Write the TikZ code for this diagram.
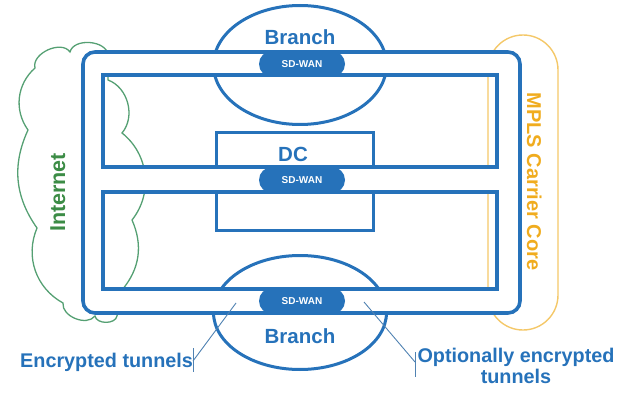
\documentclass[tikz,border=0pt]{standalone}
\usepackage{fontspec}
\setmainfont{Liberation Sans}
\usetikzlibrary{shapes.geometric,shapes.misc}
\definecolor{wanblue}{RGB}{38,114,186}
\definecolor{noteblue}{RGB}{80,130,178}
\definecolor{cloudgreen}{RGB}{85,160,115}
\definecolor{netgreen}{RGB}{60,140,70}
\definecolor{mplsorange}{RGB}{240,172,30}
\definecolor{mplsline}{RGB}{244,200,105}
\tikzset{
%Define styles for sites and tunnels
site/.style={draw=wanblue, line width=3pt, inner sep=0pt},
tunnel/.style={draw=wanblue, line width=3.6pt, fill=white, even odd rule},
sitelabel/.style={text=wanblue, font=\bfseries\fontsize{20.5}{24}\selectfont, inner sep=0pt},
sdwan/.style={rounded rectangle, fill=wanblue, text=white, font=\bfseries\fontsize{10}{11}\selectfont,
  minimum width=86pt, minimum height=26pt, inner sep=0pt},
%Define styles for annotations
note/.style={draw=noteblue, line width=0.9pt},
notelabel/.style={text=wanblue, font=\bfseries\fontsize{19.8}{21}\selectfont, inner sep=0pt, align=center},
cloudline/.style={draw=cloudgreen, line width=1.3pt},
}

\begin{document}
\begin{tikzpicture}[x=1pt,y=-1pt]

\useasboundingbox (0,0) rectangle (637,409);

% internet cloud
\draw[cloudline] (35,68) to[bend left=80] (70,52) to[bend left=80] (108,55) -- (108,80)
  to[bend left=55] (122,133) to[bend left=45] (132,220) to[bend left=32] (122,290) -- (117,316)
  to[bend left=80] (95,316) to[bend left=75] (63,303) to[bend left=42] (37,228)
  to[bend left=30] (28,130) to[bend left=42] cycle;

% mpls core
\node[draw=mplsline, line width=1.4pt, rectangle, rounded corners=35pt,
  minimum width=70pt, minimum height=295pt] (mpls) at (523,182.5) {};

% sites
\node[site, ellipse, minimum width=173pt, minimum height=119pt] (branchtop) at (300,65) {};
\node[site, rectangle, minimum width=157pt, minimum height=97pt] (dcbox) at (294.5,181.5) {};
\node[site, ellipse, minimum width=173pt, minimum height=114pt] (branchbot) at (300,312.5) {};

% tunnels
\draw[tunnel] [rounded corners=12pt] (83,52) rectangle (520,313)
  [sharp corners] (103,75) rectangle (497,167) (103,192) rectangle (497,289);

% sd-wan edges
\node[sdwan] (sdtop) at (302,64) {SD-WAN};
\node[sdwan] (sddc) at (302,180) {SD-WAN};
\node[sdwan] (sdbot) at (302,301) {SD-WAN};

% labels
\node[sitelabel, anchor=base] (brtoplabel) at (300,45) {Branch};
\node[sitelabel, anchor=base] (dclabel) at (293,161) {DC};
\node[sitelabel, anchor=base] (brbotlabel) at (300,343) {Branch};
\node[text=netgreen, font=\bfseries\fontsize{21.5}{24}\selectfont, inner sep=0pt, rotate=90, anchor=base] (netlabel) at (65,192.5) {Internet};
\node[text=mplsorange, font=\bfseries\fontsize{20}{24}\selectfont, inner sep=0pt, rotate=-90, anchor=base] (mplslabel) at (527,181.5) {MPLS Carrier Core};

% annotations
\node[notelabel, anchor=base west] (enclabel) at (20,367) {Encrypted tunnels};
\coordinate (enctop) at (193,348);
\coordinate (encbot) at (193,372);
\coordinate (enctick) at (193,361);
\coordinate (enctip) at (236,303);
\draw[note] (enctop) -- (encbot);
\draw[note] (enctick) -- (enctip);

\node[notelabel, anchor=north] (optlabel) at (516,348) {Optionally encrypted\\tunnels};
\coordinate (opttop) at (415,352);
\coordinate (optbot) at (415,377);
\coordinate (opttick) at (415,362);
\coordinate (opttip) at (364,302);
\draw[note] (opttop) -- (optbot);
\draw[note] (opttick) -- (opttip);

\end{tikzpicture}
\end{document}
